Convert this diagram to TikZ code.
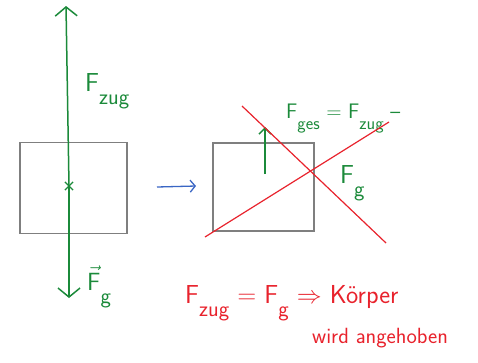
\documentclass[tikz,border=0pt]{standalone}
\usetikzlibrary{arrows.meta, calc, shapes.misc}
\definecolor{forcecol}{HTML}{1B8A3A}
\definecolor{bodycol}{HTML}{7F7F7F}
\definecolor{crosscol}{HTML}{E8222C}
\definecolor{stepcol}{HTML}{3A66C4}
% force symbol with a big, low index
\newcommand{\fsym}[2]{#1\raisebox{-0.5em}{\scalebox{0.85}{#2}}}

\begin{document}
\begin{tikzpicture}[
    x=1pt, y=-1pt,
    >={Straight Barb[length=9pt,width=22pt]},
    every node/.style={font=\sffamily},
    body/.style={
        draw=bodycol, line width=1.6pt, inner sep=0pt, outer sep=0pt,
    },
    force/.style={->, line width=1.5pt, draw=forcecol},
    stoparr/.style={->, line width=1.3pt, draw=stepcol,
        >={Straight Barb[length=5pt,width=12pt]}},
    strike/.style={line width=1.2pt, draw=crosscol},
    flbl/.style={text=forcecol, inner sep=0pt,
        font=\sffamily\fontsize{26}{28}\selectfont},
    concl/.style={text=crosscol, inner sep=0pt,
        font=\sffamily\fontsize{26}{28}\selectfont},
]
\useasboundingbox (0,0) rectangle (478,362);

% === Left: body with both forces ===
\node[body, minimum width=107pt, minimum height=91pt] (bodyL) at (73.5,188) {};
\node[cross out, draw=forcecol, line width=1.2pt, minimum size=7pt,
      inner sep=0pt] (attL) at (69,186) {};
\coordinate (zugtip) at (66,6);
\coordinate (gtip) at (69,298);
\draw[force] (attL.center) -- (zugtip);
\draw[force] (attL.center) -- (gtip);
\node[flbl, anchor=north west] (zugL) at (85,73) {\fsym{F}{zug}};
\node[flbl, anchor=north west] (gL) at (87,266)
    {\fsym{$\vec{\mathsf{F}}$}{g}};

% === Transition ===
\node[body, minimum width=101pt, minimum height=88pt] (bodyR) at (263.5,187) {};
\draw[stoparr] ([xshift=30pt, yshift=1pt]bodyL.east) -- ([xshift=-17pt, yshift=1pt]bodyR.west);

% === Right: net force (struck out) ===
\coordinate (gesbase) at (265,174);
\coordinate (gestip) at (265,127);
\draw[force, >={Straight Barb[length=6pt,width=12pt]}] (gesbase) -- (gestip);
\node[flbl, anchor=north west, font=\sffamily\fontsize{21}{23}\selectfont]
    (gesR) at (286,104) {\fsym{F}{ges} = \fsym{F}{zug} --};
\node[flbl, anchor=north west] (gR) at (340,165) {\fsym{F}{g}};

\coordinate (strikeA) at (242,106);
\coordinate (strikeB) at (386,243);
\coordinate (strikeC) at (205,237);
\coordinate (strikeD) at (389,122);
\draw[strike] (strikeA) -- (strikeB);
\draw[strike] (strikeC) -- (strikeD);

% === Conclusion ===
\node[concl, anchor=north west] (eqn) at (185,285)
    {\fsym{F}{zug} = \fsym{F}{g} $\Rightarrow$ K\"orper};
\node[concl, anchor=north west, font=\sffamily\fontsize{22}{24}\selectfont]
    (lift) at (312,328) {wird angehoben};

\end{tikzpicture}
\end{document}
